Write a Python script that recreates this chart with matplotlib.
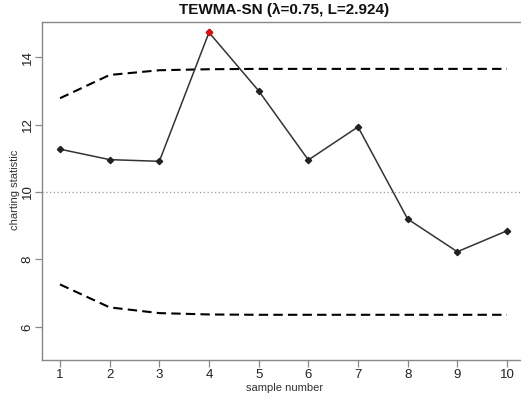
import matplotlib
matplotlib.use("Agg")
import matplotlib.pyplot as plt

plt.rcParams['font.family'] = ['Liberation Sans', 'DejaVu Sans']

# TEWMA-SN charting statistic and control limits
samples = [1, 2, 3, 4, 5, 6, 7, 8, 9, 10]
stat = [11.27, 10.96, 10.91, 14.73, 13.0, 10.95, 11.93, 9.2, 8.23, 8.85]
ucl = [12.78, 13.47, 13.61, 13.64, 13.65, 13.65, 13.65, 13.65, 13.65, 13.65]
lcl = [7.26, 6.58, 6.41, 6.37, 6.36, 6.36, 6.36, 6.36, 6.36, 6.36]
center = 10.0
out_of_control = [4]

W, H = 521, 395
fig = plt.figure(figsize=(W / 100, H / 100), dpi=100)
ax = fig.add_axes([42 / W, (H - 360) / H, 1 - 42 / W, (360 - 22) / H])

ax.axhline(center, color="#999999", lw=0.9, ls=(0, (1, 2)))
ax.plot(samples, ucl, color="black", lw=1.5, ls=(0, (4.5, 2.5)))
ax.plot(samples, lcl, color="black", lw=1.5, ls=(0, (4.5, 2.5)))
ax.plot(samples, stat, color="#333333", lw=1.1, marker="D", ms=3.2,
        mfc="#222222", mec="#222222")
for s in out_of_control:
    ax.plot(s, stat[s - 1], marker="D", ms=3.2, color="#dd1111", ls="none")

ax.set_xlim(0.6376, 10.282)
ax.set_ylim(5.02, 15.04)
ax.set_xticks(samples)
ax.set_yticks([6, 8, 10, 12, 14])
ax.set_xticklabels([str(s) for s in samples], fontsize=9.5)
ax.set_yticklabels(["6", "8", "10", "12", "14"], fontsize=9.5, rotation=90,
                   va="center")

for side in ("left", "bottom", "top"):
    ax.spines[side].set_color("#888888")
    ax.spines[side].set_linewidth(1.0)
ax.spines["right"].set_visible(False)
ax.tick_params(direction="out", length=5, width=0.9, color="#888888",
               labelcolor="#222222")
ax.tick_params(axis="x", pad=1.5)
ax.tick_params(axis="y", pad=1)

fig.text(284 / W, 1 - 10 / H, "TEWMA-SN (λ=0.75, L=2.924)", ha="center",
         va="center", fontsize=11, fontweight="bold", color="#111111")
fig.text(285 / W, 1 - 388 / H, "sample number", ha="center", va="center",
         fontsize=8, color="#333333")
fig.text(15 / W, 1 - 190 / H, "charting statistic", ha="center", va="center",
         fontsize=8, rotation=90, color="#333333")

fig.savefig("out.png", dpi=100)
